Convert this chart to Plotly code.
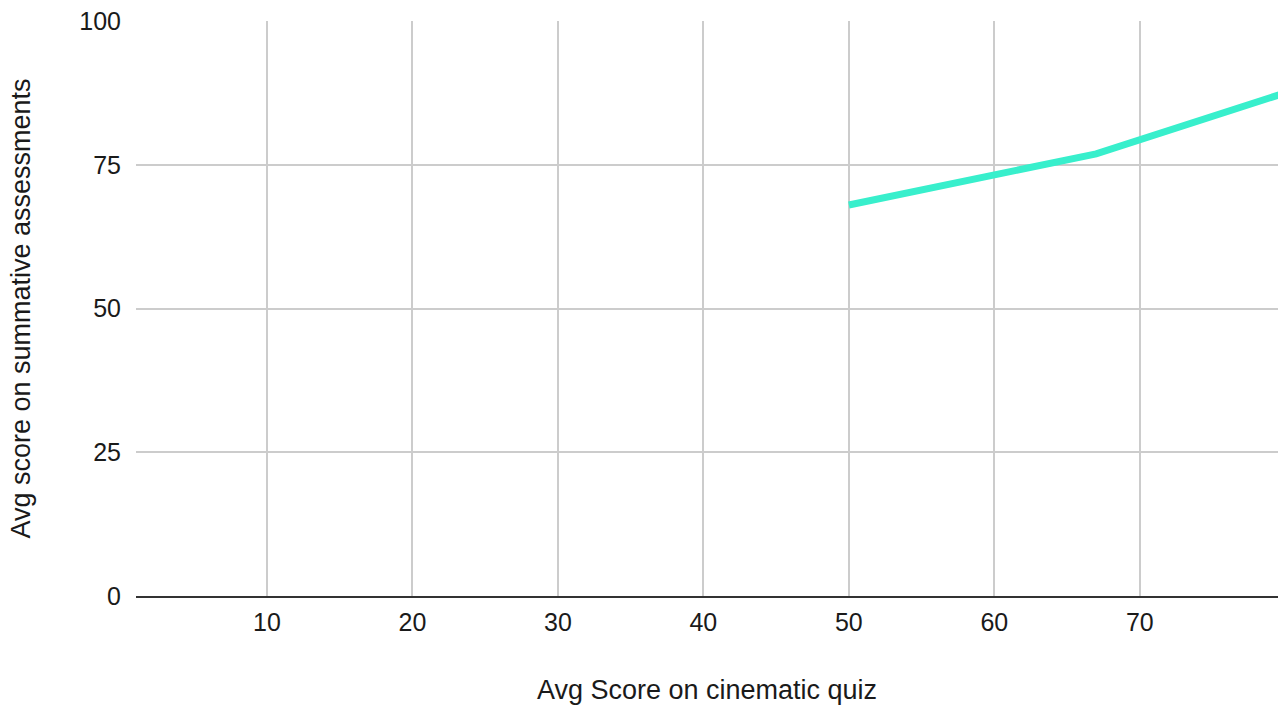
import plotly.graph_objects as go

quiz_scores = [50, 67, 80]
summative_scores = [68.0, 76.9, 87.5]
x_ticks = [10, 20, 30, 40, 50, 60, 70]
y_ticks = [0, 25, 50, 75, 100]

font_family = "Liberation Sans, Arial, Helvetica, sans-serif"

fig = go.Figure()
fig.add_trace(go.Scatter(
    x=quiz_scores, y=summative_scores, mode="lines",
    line=dict(color="#38efcc", width=7),
    showlegend=False, hoverinfo="x+y",
))

fig.update_layout(
    width=1278, height=706,
    margin=dict(l=136, r=0, t=21, b=110),
    paper_bgcolor="white", plot_bgcolor="white",
    font=dict(family=font_family, size=25, color="#1a1a1a"),
    xaxis=dict(
        range=[1, 79.5], tickvals=x_ticks, ticktext=[str(v) for v in x_ticks],
        showgrid=True, gridcolor="#cccccc", gridwidth=2,
        zeroline=False, showline=True, linecolor="#333333", linewidth=2,
        ticks="", ticklabelstandoff=3,
        title=dict(text="Avg Score on cinematic quiz", standoff=45,
                   font=dict(size=27)),
        tickfont=dict(size=25),
    ),
    yaxis=dict(
        range=[0, 100], tickvals=y_ticks, ticktext=[str(v) for v in y_ticks],
        showgrid=True, gridcolor="#cccccc", gridwidth=2,
        zeroline=False, showline=False, ticks="", ticklabelstandoff=14,
        ticklabeloverflow="allow",
        title=dict(text="Avg score on summative assessments", standoff=40,
                   font=dict(size=27)),
        tickfont=dict(size=25),
    ),
)

fig.write_html(
    "out.html",
    config={"displayModeBar": False},
    post_script="document.body.style.margin='0';document.body.style.overflow='hidden';",
)
